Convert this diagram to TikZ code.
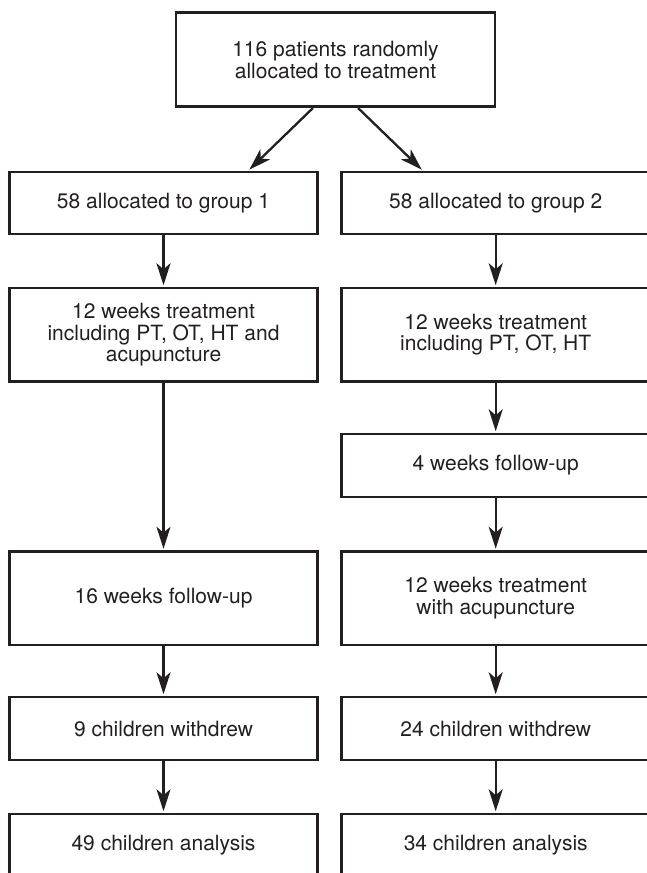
\documentclass[tikz,border=0pt]{standalone}
\usepackage{fontspec}
\setmainfont{TeX Gyre Heros}
\usetikzlibrary{arrows.meta}
\definecolor{ink}{HTML}{231F20}
\begin{document}
\begin{tikzpicture}[x=1pt,y=-1pt,
  box/.style={draw=ink, line width=2.7pt, rectangle, inner sep=0pt,
    minimum width=308.4pt, align=center, text=ink,
    font=\fontsize{21}{21.6}\selectfont},
  shortbox/.style={box, minimum height=63pt},
  tallbox/.style={box, minimum height=93.5pt},
  arr/.style={draw=ink, line width=2.3pt,
    -{Stealth[length=22pt,width=14pt,inset=6pt]}, shorten >=1.4pt}]
\useasboundingbox (0,0) rectangle (647,873);
\clip (0,0) rectangle (647,873);
% nodes
\node[box, minimum width=319pt, minimum height=94pt] (top) at (335.5,59.7)
  {116 patients randomly\\allocated to treatment};
\node[box, minimum height=62pt] (L1) at (163.5,203) {58 allocated to group 1};
\node[box, minimum height=62pt] (R1) at (495.7,203) {58 allocated to group 2};
\node[tallbox] (L2) at (163.5,334.75)
  {12 weeks treatment\\including PT, OT, HT and\\acupuncture};
\node[tallbox] (R2) at (495.7,334.75)
  {12 weeks treatment\\including PT, OT, HT};
\node[shortbox] (R3) at (495.7,465.5) {4 weeks follow-up};
\node[tallbox] (L3) at (163.5,598.25) {16 weeks follow-up};
\node[tallbox] (R4) at (495.7,598.25)
  {12 weeks treatment\\with acupuncture};
\node[shortbox] (L4) at (163.5,728.5) {9 children withdrew};
\node[shortbox] (R5) at (495.7,728.5) {24 children withdrew};
\node[shortbox] (L5) at (163.5,845.5) {49 children analysis};
\node[shortbox] (R6) at (495.7,845.5) {34 children analysis};
% connectors
\draw[arr] ([xshift=-22.6pt]top.south) -- ([xshift=84.8pt]L1.north);
\draw[arr] ([xshift=22.6pt]top.south) -- ([xshift=-72.9pt]R1.north);
\draw[arr] (L1) -- (L2);
\draw[arr] (L2) -- (L3);
\draw[arr] (L3) -- (L4);
\draw[arr] (L4) -- (L5);
\draw[arr] (R1) -- (R2);
\draw[arr] (R2) -- (R3);
\draw[arr] (R3) -- (R4);
\draw[arr] (R4) -- (R5);
\draw[arr] (R5) -- (R6);
\end{tikzpicture}
\end{document}
